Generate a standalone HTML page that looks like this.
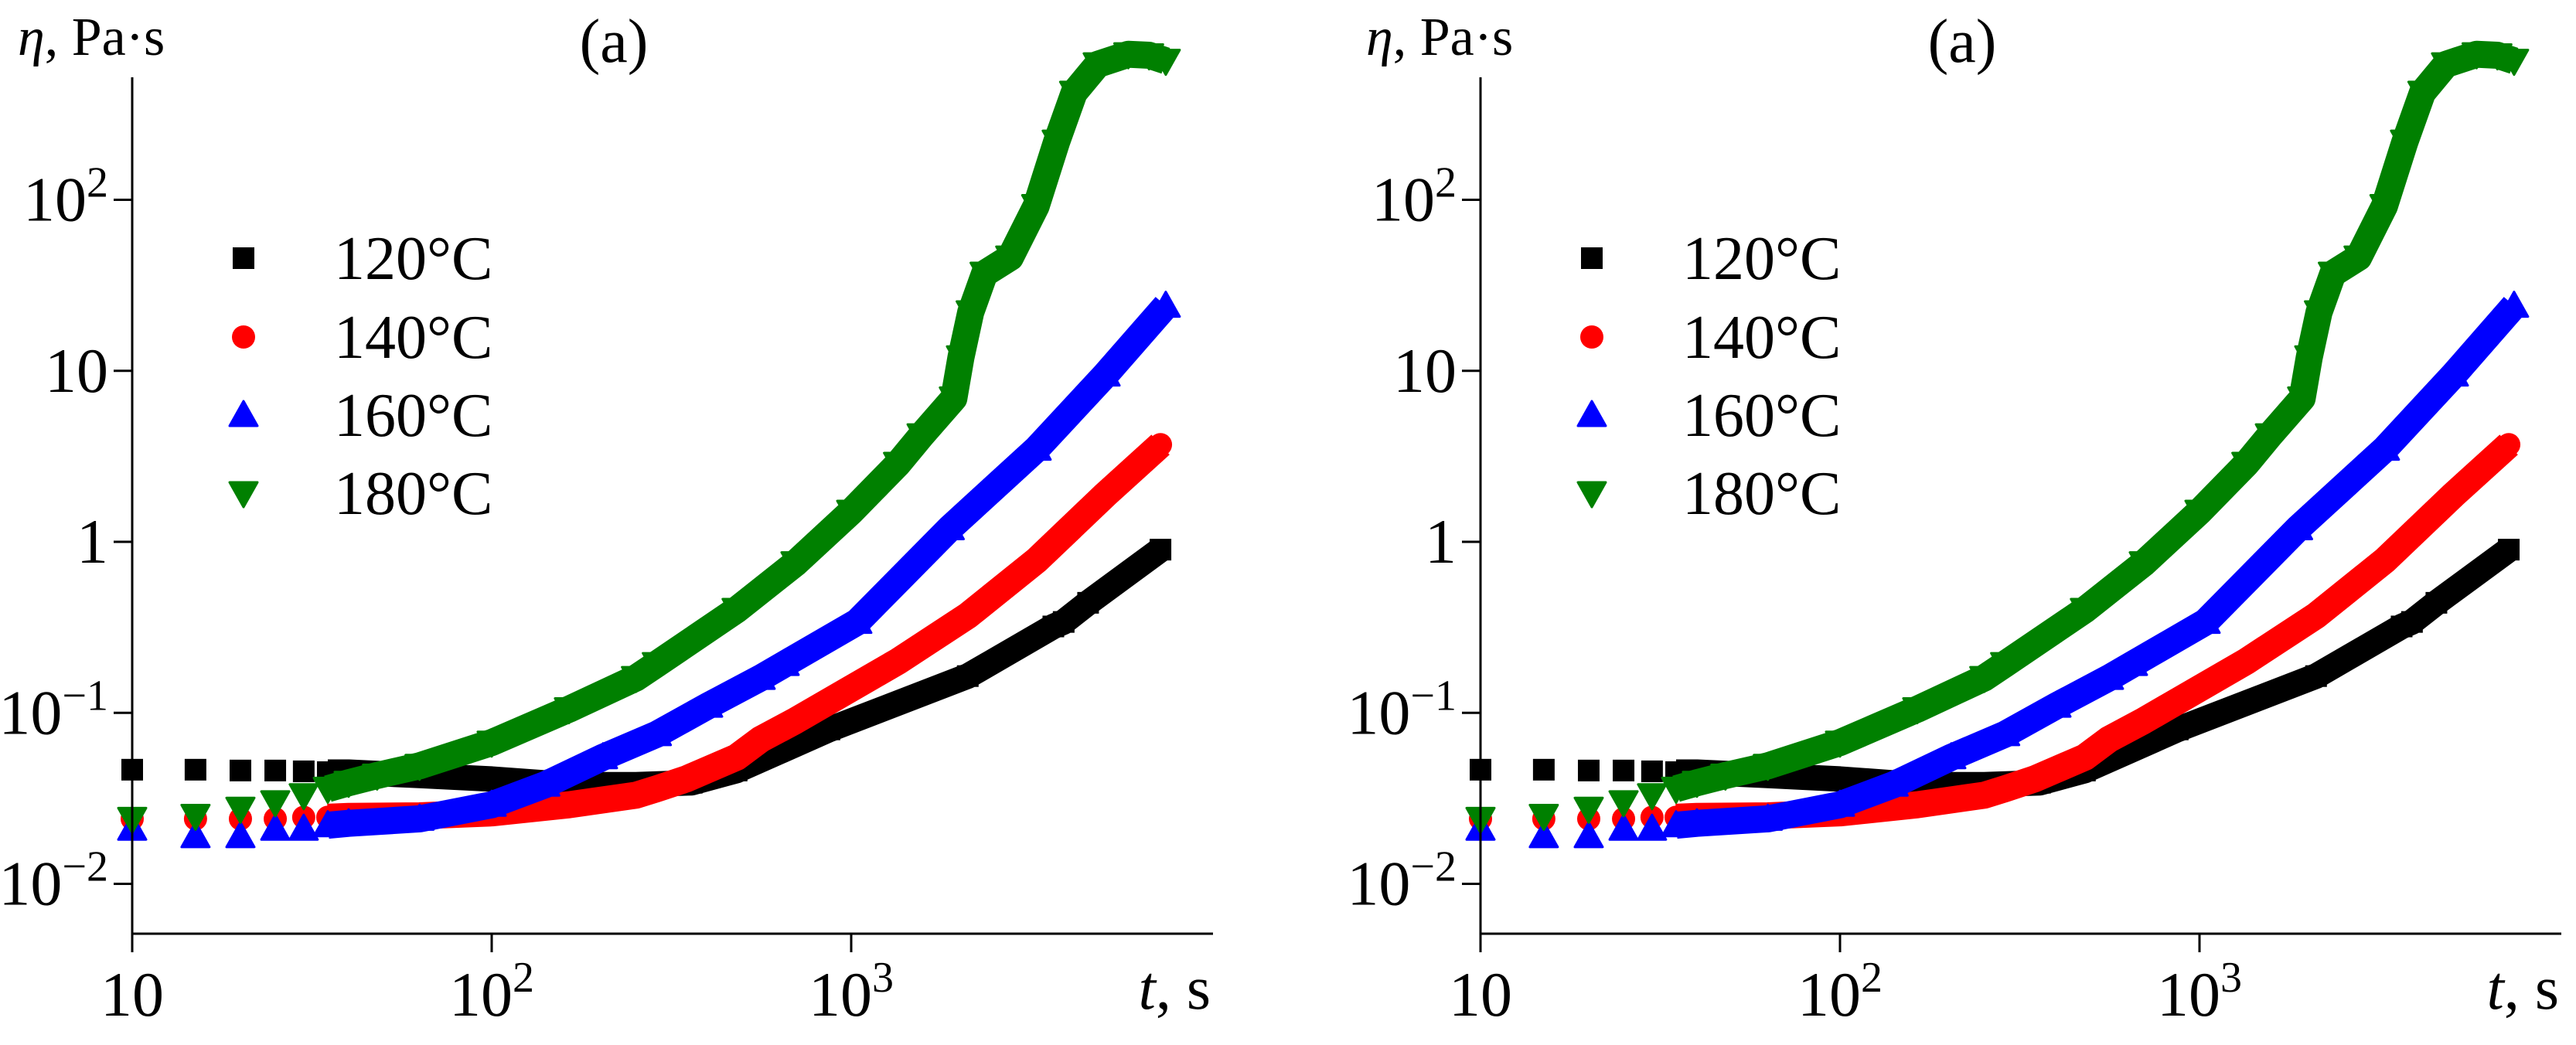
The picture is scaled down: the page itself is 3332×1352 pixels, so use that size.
<!DOCTYPE html>
<html><head><meta charset="utf-8"><style>
html,body{margin:0;padding:0;background:#fff;}
svg{display:block;}
svg text{font-family:"Liberation Serif","Times New Roman",serif;}
</style></head><body>
<svg id="chart" width="3332" height="1352" viewBox="0 0 3332 1352" xmlns="http://www.w3.org/2000/svg" font-family="Liberation Serif, serif"></svg>
<script>
// Data (t in s, eta in Pa·s)
const t120 = [10,15,20,25,30,35,40,63,100,164,252,360,480,870,2110,3650,3900,4560,7250];
const e120 = [0.0465,0.0465,0.046,0.046,0.0455,0.045,0.045,0.043,0.041,0.038,0.038,0.039,0.046,0.08,0.164,0.32,0.34,0.44,0.9];
const t140 = [10,15,20,25,30,35,40,63,100,164,252,288,347,480,560,700,1350,2110,3280,5100,7250];
const e140 = [0.024,0.024,0.024,0.024,0.0245,0.0245,0.0248,0.025,0.026,0.029,0.033,0.036,0.041,0.055,0.07,0.09,0.2,0.37,0.78,1.89,3.7];
const t160 = [10,15,20,25,30,35,40,63,100,141,204,288,400,560,653,1040,1880,3280,5100,7500];
const e160 = [0.021,0.019,0.019,0.021,0.021,0.022,0.0226,0.024,0.029,0.038,0.055,0.075,0.11,0.16,0.193,0.34,1.2,3.5,9.5,24];
const t180 = [10,15,20,25,30,35,40,48,63,100,164,252,288,480,700,1000,1350,1570,1930,2020,2150,2350,2770,3270,3730,4170,4850,5900,6740,7500];
const e180 = [0.024,0.025,0.0275,0.030,0.033,0.036,0.039,0.043,0.049,0.067,0.105,0.16,0.193,0.40,0.75,1.5,2.86,4.2,6.9,12,22,37,46,92,219,423,620,710,700,650];
const seriesLabels = ["120°C","140°C","160°C","180°C"];
const yTicks = [-2,-1,0,1,2];
const xTicks = [1,2,3];

const NS="http://www.w3.org/2000/svg";
const svg=document.getElementById('chart');
const FF='Liberation Serif, Times New Roman, serif';
function mk(tag,attrs,parent){const e=document.createElementNS(NS,tag);for(const k in attrs)e.setAttribute(k,attrs[k]);if(tag==='text')e.setAttribute('font-family',FF);(parent||svg).appendChild(e);return e;}

const X0=171, DEC_X=465, Y1=701, DEC_Y=221.25;
function sx(t,off){return off+X0+(Math.log10(t)-1)*DEC_X;}
function sy(v){return Y1-Math.log10(v)*DEC_Y;}

const series=[
 {t:t120,e:e120,c:"#000000",m:"square",name:"series-120c"},
 {t:t140,e:e140,c:"#ff0000",m:"circle",name:"series-140c"},
 {t:t160,e:e160,c:"#0000ff",m:"up",name:"series-160c"},
 {t:t180,e:e180,c:"#008000",m:"down",name:"series-180c"}
];

function marker(g,type,x,y,c){
  let el;
  if(type==="square"){el=mk('rect',{x:x-14,y:y-14,width:28,height:28,fill:c},g);}
  else if(type==="circle"){el=mk('circle',{cx:x,cy:y,r:15,fill:c},g);}
  else if(type==="up"){el=mk('polygon',{points:`${x},${y-18} ${x+18},${y+14} ${x-18},${y+14}`,fill:c,'stroke':c,'stroke-width':3,'stroke-linejoin':'round'},g);}
  else {el=mk('polygon',{points:`${x-18},${y-14} ${x+18},${y-14} ${x},${y+18}`,fill:c,'stroke':c,'stroke-width':3,'stroke-linejoin':'round'},g);}
  
  
  return el;
}

function panel(off,idx){
  const g=mk('g',{});
  
  
  series.forEach(s=>{
    const sg=mk('g',{},g);
    
    
    const pts=[];
    for(let i=0;i<s.t.length;i++){ if(s.t[i]>=35) pts.push(sx(s.t[i],off).toFixed(1)+','+sy(s.e[i]).toFixed(1)); }
    const band=mk('polyline',{points:pts.join(' '),fill:'none',stroke:s.c,'stroke-width':s.m==="square"?33:35,'stroke-linejoin':'round','stroke-linecap':'butt'},sg);
    
    
    for(let i=0;i<s.t.length;i++) marker(sg,s.m,sx(s.t[i],off),sy(s.e[i]),s.c);
  });
  const ya=mk('line',{x1:off+X0,y1:100,x2:off+X0,y2:1232,stroke:'#000','stroke-width':3},g);
  
  const xa=mk('line',{x1:off+X0,y1:1208,x2:off+1569,y2:1208,stroke:'#000','stroke-width':3},g);
  
  yTicks.forEach(p=>{
    const y=Y1-p*DEC_Y;
    const tk=mk('line',{x1:off+147,y1:y,x2:off+X0,y2:y,stroke:'#000','stroke-width':3},g);
    
    const tx=mk('text',{x:off+140,y:y+27,'font-size':82,'text-anchor':'end'},g);
    
    if(p===0){tx.textContent='1';}
    else if(p===1){tx.textContent='10';}
    else{tx.appendChild(document.createTextNode('10'));const sp=mk('tspan',{dy:-31,'font-size':56},tx);sp.textContent=(p<0?'\u2212':'')+Math.abs(p);}
  });
  xTicks.forEach(p=>{
    const x=off+X0+(p-1)*DEC_X;
    const tk=mk('line',{x1:x,y1:1208,x2:x,y2:1232,stroke:'#000','stroke-width':3},g);
    
    const tx=mk('text',{x:x,y:1314,'font-size':82,'text-anchor':'middle'},g);
    
    tx.appendChild(document.createTextNode('10'));
    if(p>1){const sp=mk('tspan',{dy:-31,'font-size':56},tx);sp.textContent=String(p);}
  });
  const xt=mk('text',{x:off+1566,y:1305,'font-size':80,'text-anchor':'end'},g);
  
  const ti=mk('tspan',{'font-style':'italic'},xt);ti.textContent='t';
  xt.appendChild(document.createTextNode(', s'));
  const yt=mk('text',{x:off+23,y:71,'font-size':70},g);
  
  const te=mk('tspan',{'font-style':'italic'},yt);te.textContent='η';
  yt.appendChild(document.createTextNode(', Pa·s'));
  const pt=mk('text',{x:off+794,y:80,'font-size':80,'text-anchor':'middle'},g);
  
  pt.textContent='(a)';
  const rows=[334,436,537,638];
  series.forEach((s,i)=>{
    const lg=mk('g',{},g);
    
    
    marker(lg,s.m,off+315,rows[i],s.c);
    const lt=mk('text',{x:off+432,y:rows[i]+27,'font-size':80},lg);
    
    lt.textContent=seriesLabels[i];
  });
}
panel(0,'left');
panel(1744,'right');
</script>
</body></html>
